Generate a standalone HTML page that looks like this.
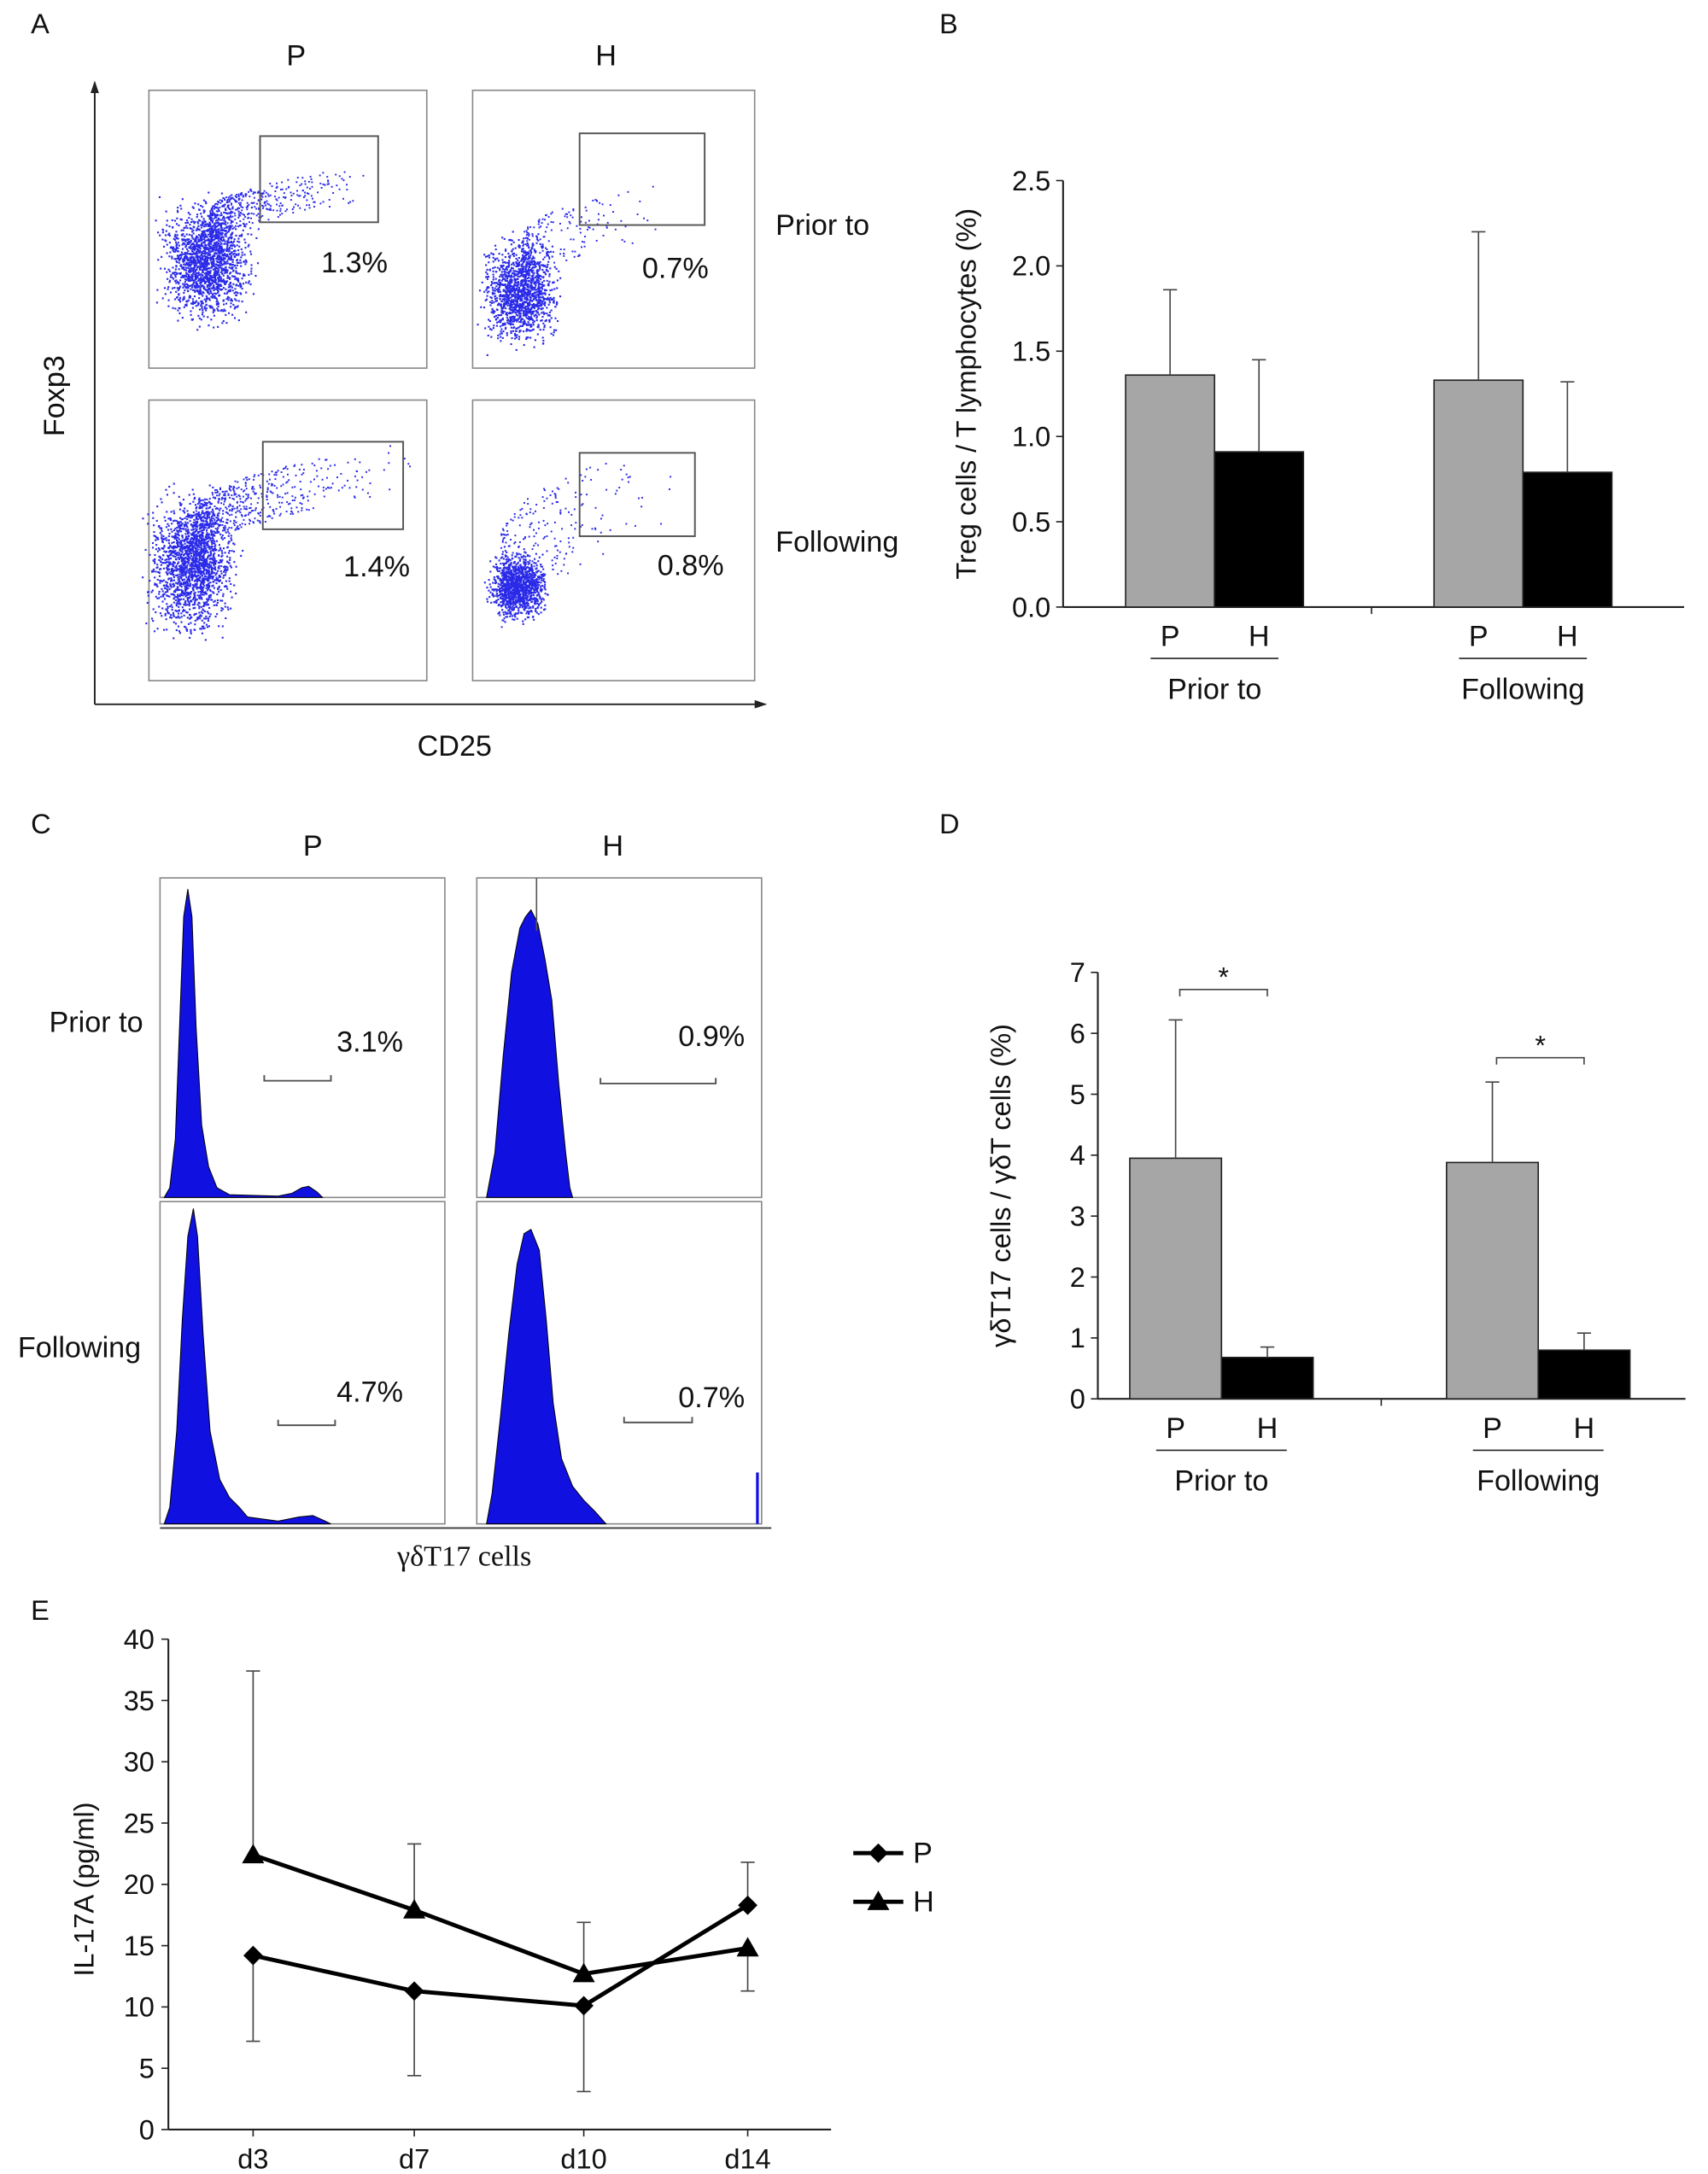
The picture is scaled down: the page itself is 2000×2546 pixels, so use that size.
<!DOCTYPE html>
<html><head><meta charset="utf-8"><style>
html,body{margin:0;padding:0;background:#fff}
svg{display:block;font-family:"Liberation Sans",sans-serif}
</style></head><body>
<svg id="fig" width="2000" height="2546" viewBox="0 0 1229 1565" xmlns="http://www.w3.org/2000/svg">
<rect width="1229" height="1565" fill="#fff"/>
<g font-size="20" fill="#111">
<text x="22" y="24">A</text>
<text x="676" y="24">B</text>
<text x="22" y="600">C</text>
<text x="676" y="600">D</text>
<text x="22" y="1166">E</text>
</g>

<!-- Panel A -->
<g id="panelA" font-size="21" fill="#111">
<text x="213" y="47" text-anchor="middle">P</text>
<text x="436" y="47" text-anchor="middle">H</text>
<text x="558" y="169">Prior to</text>
<text x="558" y="397">Following</text>
<text x="327" y="544" text-anchor="middle">CD25</text>
<text transform="translate(46,285) rotate(-90)" text-anchor="middle">Foxp3</text>
<line x1="68" y1="507" x2="68" y2="64" stroke="#222" stroke-width="1.2"/>
<polygon points="68,58 65,67 71,67" fill="#222"/>
<line x1="68" y1="507" x2="546" y2="507" stroke="#222" stroke-width="1.2"/>
<polygon points="552,507 543,504 543,510" fill="#222"/>
<g fill="none" stroke="#888" stroke-width="1">
<rect x="107" y="65" width="200" height="200"/>
<rect x="340" y="65" width="203" height="200"/>
<rect x="107" y="288" width="200" height="202"/>
<rect x="340" y="288" width="203" height="202"/>
</g>
<g id="dots" fill="#2a2ae8"></g>
<g fill="none" stroke="#555" stroke-width="1.2">
<rect x="187" y="98" width="85" height="62"/>
<rect x="417" y="96" width="90" height="66"/>
<rect x="189" y="318" width="101" height="63"/>
<rect x="417" y="326" width="83" height="60"/>
</g>
<text x="231" y="196">1.3%</text>
<text x="462" y="200">0.7%</text>
<text x="247" y="415">1.4%</text>
<text x="473" y="414">0.8%</text>
</g>

<!-- Panel B -->
<g id="panelB"></g>
<!-- Panel D -->
<g id="panelD"></g>

<!-- Panel C -->
<g id="panelC" font-size="21" fill="#111">
<text x="225" y="616" text-anchor="middle">P</text>
<text x="441" y="616" text-anchor="middle">H</text>
<text x="69" y="743" text-anchor="middle">Prior to</text>
<text x="57" y="977" text-anchor="middle">Following</text>
<g fill="none" stroke="#888" stroke-width="1">
<rect x="115" y="632" width="205" height="230"/>
<rect x="343" y="632" width="205" height="230"/>
<rect x="115" y="865" width="205" height="232"/>
<rect x="343" y="865" width="205" height="232"/>
</g>
<g fill="#1010e0" stroke="#000" stroke-width="0.6">
<path d="M118,862 L122,855 L126,820 L129,740 L132,660 L135,640 L138,660 L141,740 L145,810 L150,840 L156,855 L165,860 L200,861 L210,859 L217,855 L222,854 L228,858 L232,862 Z"/>
<path d="M350,862 L356,830 L362,760 L368,700 L374,668 L378,660 L382,655 L387,665 L392,690 L397,720 L402,780 L407,830 L410,855 L412,862 Z"/>
<path d="M118,1097 L122,1085 L127,1030 L131,950 L135,890 L139,870 L142,890 L146,960 L151,1030 L158,1065 L165,1078 L172,1085 L178,1092 L200,1095 L215,1092 L225,1091 L234,1095 L238,1097 Z"/>
<path d="M350,1097 L354,1075 L360,1020 L366,960 L372,910 L377,888 L382,885 L388,900 L393,950 L398,1010 L404,1050 L412,1070 L420,1080 L428,1088 L436,1097 Z"/>
<line x1="545" y1="1097" x2="545" y2="1060" stroke="#1010e0" stroke-width="2"/>
</g>
<line x1="386" y1="632" x2="386" y2="670" stroke="#555"/>
<g fill="none" stroke="#555" stroke-width="1.2">
<path d="M190,774 V778 H238 V774"/>
<path d="M432,776 V780 H515 V776"/>
<path d="M200,1022 V1026 H241 V1022"/>
<path d="M449,1020 V1024 H498 V1020"/>
</g>
<line x1="115" y1="1100" x2="555" y2="1100" stroke="#444" stroke-width="1.2"/>
<text x="334" y="1127" text-anchor="middle" font-family="Liberation Serif,serif">γδT17 cells</text>
<text x="266" y="757" text-anchor="middle">3.1%</text>
<text x="512" y="753" text-anchor="middle">0.9%</text>
<text x="266" y="1009" text-anchor="middle">4.7%</text>
<text x="512" y="1013" text-anchor="middle">0.7%</text>
</g>

<!-- Panel E -->
<g id="panelE"></g>
</svg>
<script>
var NS="http://www.w3.org/2000/svg";
function mk(parent,tag,attrs,text){var e=document.createElementNS(NS,tag);for(var k in attrs)e.setAttribute(k,attrs[k]);if(text!==undefined)e.textContent=text;parent.appendChild(e);return e;}

// ---- Panel A dots (decorative scatter texture) ----
(function(){
 var g=document.getElementById('dots');var s=7;function r(){s=(s*16807)%2147483647;return s/2147483647;}
 function gauss(){return (r()+r()+r()-1.5)/0.75;}
 function blob(cx,cy,rx,ry,n,tail){for(var i=0;i<n;i++){var x=cx+gauss()*rx*0.6,y=cy+gauss()*ry*0.6;mk(g,'rect',{x:x.toFixed(1),y:y.toFixed(1),width:1.3,height:1.3});}
  for(var j=0;j<tail.n;j++){var t=r()*r();var x=tail.x0+(tail.x1-tail.x0)*t,y=tail.y0+(tail.y1-tail.y0)*Math.sqrt(t)+(r()-0.5)*tail.w;mk(g,'rect',{x:x.toFixed(1),y:y.toFixed(1),width:1.2,height:1.2});}}
 blob(148,188,34,45,1700,{n:450,x0:150,x1:275,y0:165,y1:130,w:26});
 blob(374,210,28,40,1400,{n:200,x0:375,x1:480,y0:190,y1:150,w:40});
 blob(138,405,32,52,1800,{n:550,x0:140,x1:300,y0:385,y1:335,w:36});
 blob(372,422,22,26,1200,{n:260,x0:360,x1:490,y0:420,y1:350,w:70});
})();

// ---- Bar charts ----
var bCats=["Prior to","Following"];
var bP=[1.36,1.33], bPErr=[1.86,2.2];
var bH=[0.91,0.79], bHErr=[1.45,1.32];
var bTicks=[0,0.5,1.0,1.5,2.0,2.5];
var dP=[3.95,3.88], dPErr=[6.22,5.2];
var dH=[0.68,0.8], dHErr=[0.85,1.08];
var dTicks=[0,1,2,3,4,5,6,7];

function barChart(g,o){
 var y=function(v){return o.y0-(v-o.min)/(o.max-o.min)*(o.y0-o.y1);};
 mk(g,'line',{x1:o.ax,y1:o.y1,x2:o.ax,y2:o.y0,stroke:'#222','stroke-width':1.3});
 mk(g,'line',{x1:o.ax,y1:o.y0,x2:o.xend,y2:o.y0,stroke:'#222','stroke-width':1.3});
 mk(g,'line',{x1:o.mid,y1:o.y0,x2:o.mid,y2:o.y0+5,stroke:'#222'});
 o.ticks.forEach(function(t){var yy=y(t);mk(g,'line',{x1:o.ax-5,y1:yy,x2:o.ax,y2:yy,stroke:'#222'});
  var tx=mk(g,'text',{x:o.ax-9,y:yy+7,'text-anchor':'end','font-size':20,fill:'#111'},o.dec?t.toFixed(1):String(t));
  });
 var t=mk(g,'text',{transform:'translate('+o.tx+','+(o.y0+o.y1)/2+') rotate(-90)','text-anchor':'middle','font-size':20,fill:'#111'},o.title);
 
 o.cats.forEach(function(c,i){
  var gx=o.gx[i];
  [[o.P[i],o.PE[i],'#a6a6a6',gx],[o.H[i],o.HE[i],'#000',gx+o.bw]].forEach(function(b,k){
   var top=y(b[0]);
   var r=mk(g,'rect',{x:b[3],y:top,width:o.bw,height:o.y0-top,fill:b[2],stroke:'#222','stroke-width':1});
   
   var cx=b[3]+o.bw/2,ey=y(b[1]);
   var e=mk(g,'path',{d:'M'+cx+','+top+' V'+ey+' M'+(cx-5)+','+ey+' H'+(cx+5),stroke:'#444',fill:'none','stroke-width':1});
   
   mk(g,'text',{x:cx,y:o.y0+28,'text-anchor':'middle','font-size':21,fill:'#111'},k?'H':'P');
  });
  mk(g,'line',{x1:gx+o.bw/2-14,y1:o.y0+37,x2:gx+o.bw*1.5+14,y2:o.y0+37,stroke:'#222'});
  var cl=mk(g,'text',{x:gx+o.bw,y:o.y0+66,'text-anchor':'middle','font-size':21,fill:'#111'},c);
  
  if(o.sig){var sy=y(o.P[i]>0?o.sigY[i]:0);var a=gx+o.bw/2+3,b2=gx+o.bw*1.5;
   mk(g,'path',{d:'M'+a+','+(sy+5)+' V'+sy+' H'+b2+' V'+(sy+5),fill:'none',stroke:'#444'});
   mk(g,'text',{x:(a+b2)/2,y:sy-2,'text-anchor':'middle','font-size':20,fill:'#111'},'*');}
 });
}
barChart(document.getElementById('panelB'),{ax:765,xend:1212,y0:437,y1:130,min:0,max:2.5,mid:987,ticks:bTicks,dec:true,
 title:'Treg cells / T lymphocytes (%)',tx:702,cats:bCats,P:bP,PE:bPErr,H:bH,HE:bHErr,gx:[810,1032],bw:64});
barChart(document.getElementById('panelD'),{ax:790,xend:1213,y0:1007,y1:700,min:0,max:7,mid:994,ticks:dTicks,dec:false,
 title:'γδT17 cells / γδT cells (%)',tx:727,cats:bCats,P:dP,PE:dPErr,H:dH,HE:dHErr,gx:[813,1041],bw:66,sig:true,sigY:[6.72,5.6]});

// ---- Line chart E ----
var eCats=["d3","d7","d10","d14"];
var eP=[14.2,11.3,10.1,18.3], ePLow=[7.2,4.4,3.1,null], ePHigh=[null,null,null,21.8];
var eH=[22.4,17.9,12.7,14.8], eHLow=[null,null,null,11.3], eHHigh=[37.4,23.3,16.9,null];
var eTicks=[0,5,10,15,20,25,30,35,40];
(function(){
 var g=document.getElementById('panelE');
 var y0=1533,y1=1180,x0=121;var xs=[182,298,420,538];
 var y=function(v){return y0-v/40*(y0-y1);};var x=function(i){return xs[i];};
 mk(g,'line',{x1:x0,y1:y1,x2:x0,y2:y0,stroke:'#222','stroke-width':1.3});
 mk(g,'line',{x1:x0,y1:y0,x2:598,y2:y0,stroke:'#222','stroke-width':1.3});
 eTicks.forEach(function(t){var yy=y(t);mk(g,'line',{x1:x0-5,y1:yy,x2:x0,y2:yy,stroke:'#222'});
  var tx=mk(g,'text',{x:x0-10,y:yy+7,'text-anchor':'end','font-size':20,fill:'#111'},String(t));
  });
 eCats.forEach(function(c,i){mk(g,'line',{x1:x(i),y1:y0,x2:x(i),y2:y0+5,stroke:'#222'});
  var tx=mk(g,'text',{x:x(i),y:y0+28,'text-anchor':'middle','font-size':20,fill:'#111'},c);
  });
 var t=mk(g,'text',{transform:'translate(67,1360) rotate(-90)','text-anchor':'middle','font-size':20,fill:'#111'},'IL-17A (pg/ml)');
 
 function errs(vals,lo,hi){vals.forEach(function(v,i){[lo[i],hi[i]].forEach(function(e){if(e===null)return;
  var p=mk(g,'path',{d:'M'+x(i)+','+y(v)+' V'+y(e)+' M'+(x(i)-5)+','+y(e)+' H'+(x(i)+5),stroke:'#444',fill:'none'});
  });});}
 errs(eP,ePLow,ePHigh);errs(eH,eHLow,eHHigh);
 function series(vals,name,marker){
  var pl=mk(g,'polyline',{points:vals.map(function(v,i){return x(i)+','+y(v);}).join(' '),fill:'none',stroke:'#000','stroke-width':3});
  
  vals.forEach(function(v,i){var m=marker(x(i),y(v));});}
 var dia=function(cx,cy){return mk(g,'polygon',{points:cx+','+(cy-7)+' '+(cx+7)+','+cy+' '+cx+','+(cy+7)+' '+(cx-7)+','+cy,fill:'#000'});};
 var tri=function(cx,cy){return mk(g,'polygon',{points:cx+','+(cy-8)+' '+(cx+8)+','+(cy+6)+' '+(cx-8)+','+(cy+6),fill:'#000'});};
 series(eP,'p',dia);series(eH,'h',tri);
 var l1=mk(g,'line',{x1:614,y1:1334,x2:650,y2:1334,stroke:'#000','stroke-width':3});
 dia(632,1334);mk(g,'text',{x:657,y:1341,'font-size':21,fill:'#111'},'P');
 var l2=mk(g,'line',{x1:614,y1:1369,x2:650,y2:1369,stroke:'#000','stroke-width':3});
 tri(632,1369);mk(g,'text',{x:657,y:1376,'font-size':21,fill:'#111'},'H');
})();
</script>
</body></html>
